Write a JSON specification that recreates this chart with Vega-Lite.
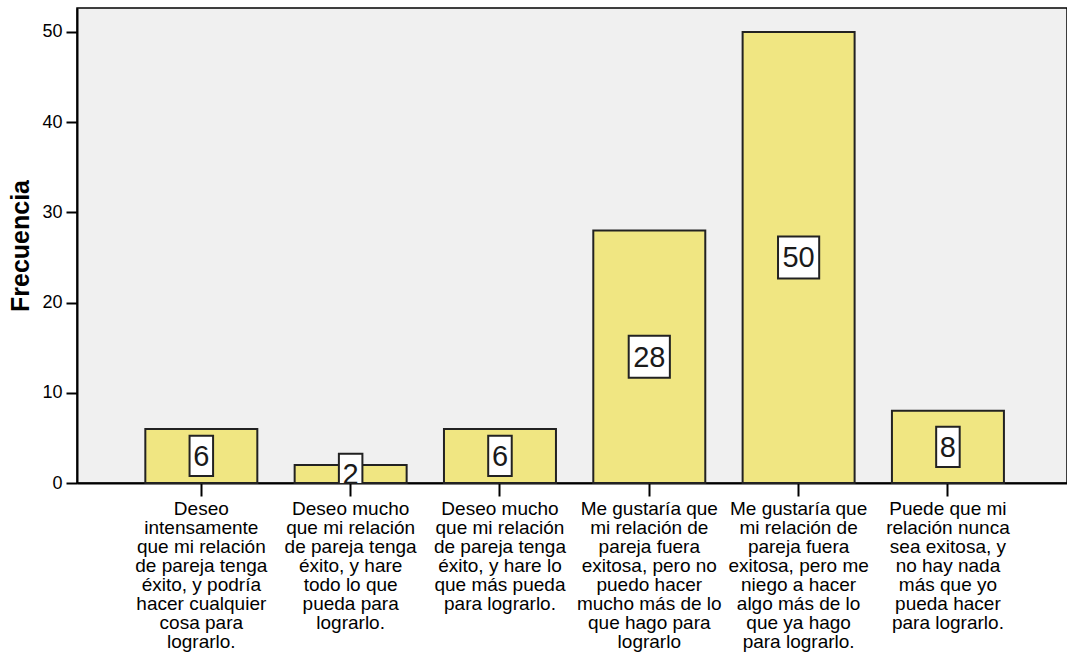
{
  "$schema": "https://vega.github.io/schema/vega-lite/v6.json",
  "width": 990,
  "height": 475,
  "autosize": "none",
  "padding": {"left": 77, "top": 8, "right": 0, "bottom": 170},
  "background": "#ffffff",
  "config": {
    "view": {"fill": "#f0f0f0", "stroke": "#000000", "strokeWidth": 1.5},
    "font": "Liberation Sans"
  },
  "data": {
    "values": [
      {"categoria": "Deseo\nintensamente\nque mi relación\nde pareja tenga\néxito, y podría\nhacer cualquier\ncosa para\nlograrlo.", "Frecuencia": 6},
      {"categoria": "Deseo mucho\nque mi relación\nde pareja tenga\néxito, y hare\ntodo lo que\npueda para\nlograrlo.", "Frecuencia": 2},
      {"categoria": "Deseo mucho\nque mi relación\nde pareja tenga\néxito, y hare lo\nque más pueda\npara lograrlo.", "Frecuencia": 6},
      {"categoria": "Me gustaría que\nmi relación de\npareja fuera\nexitosa, pero no\npuedo  hacer\nmucho más de lo\nque  hago para\nlograrlo", "Frecuencia": 28},
      {"categoria": "Me gustaría que\nmi relación de\npareja fuera\nexitosa, pero me\nniego a hacer\nalgo más de lo\nque ya hago\npara lograrlo.", "Frecuencia": 50},
      {"categoria": "Puede que mi\nrelación nunca\nsea exitosa, y\nno hay nada\nmás que yo\npueda hacer\npara lograrlo.", "Frecuencia": 8}
    ]
  },
  "encoding": {
    "x": {
      "field": "categoria",
      "type": "nominal",
      "sort": null,
      "scale": {"paddingInner": 0.25, "paddingOuter": 0.44, "align": 0.52},
      "axis": {
        "title": null,
        "labelAngle": 0,
        "labelExpr": "split(datum.label, '\\n')",
        "labelFont": "Liberation Sans",
        "labelFontSize": 19,
        "labelLineHeight": 19,
        "labelColor": "#000000",
        "labelBaseline": "top",
        "labelPadding": 3,
        "labelLimit": 300,
        "tickSize": 13,
        "tickWidth": 2,
        "tickColor": "#000000",
        "domainColor": "#000000",
        "domainWidth": 2
      }
    }
  },
  "layer": [
    {
      "mark": {"type": "bar", "fill": "#f0e682", "stroke": "#222222", "strokeWidth": 2},
      "encoding": {
        "y": {
          "field": "Frecuencia",
          "type": "quantitative",
          "scale": {"domain": [0, 52.66], "nice": false, "zero": true},
          "axis": {
            "title": "Frecuencia",
            "titleFont": "Liberation Sans",
            "titleFontSize": 25,
            "titleFontWeight": "bold",
            "titleColor": "#000000",
            "titlePadding": 8,
            "values": [0, 10, 20, 30, 40, 50],
            "grid": false,
            "labelFont": "Liberation Sans",
            "labelFontSize": 18,
            "labelColor": "#000000",
            "labelPadding": 4,
            "tickSize": 11,
            "tickWidth": 2,
            "tickColor": "#000000",
            "domainColor": "#000000",
            "domainWidth": 2
          }
        }
      }
    },
    {
      "transform": [{"calculate": "datum.Frecuencia / 2", "as": "mitad"}],
      "mark": {"type": "point", "clip": true, "filled": false, "fill": "#ffffff", "fillOpacity": 1, "stroke": "#222222", "strokeWidth": 2, "opacity": 1, "size": 1764},
      "encoding": {
        "y": {"field": "mitad", "type": "quantitative"},
        "shape": {
          "condition": {"test": "datum.Frecuencia >= 10", "value": "M-0.98,-1H0.98V1H-0.98Z"},
          "value": "M-0.56,-0.96H0.56V0.96H-0.56Z"
        }
      }
    },
    {
      "transform": [{"calculate": "datum.Frecuencia / 2", "as": "mitad"}],
      "mark": {"type": "text", "clip": true, "font": "Liberation Sans", "fontSize": 29, "color": "#1a1a1a", "baseline": "middle", "align": "center", "dy": 1},
      "encoding": {
        "y": {"field": "mitad", "type": "quantitative"},
        "text": {"field": "Frecuencia", "type": "quantitative"}
      }
    }
  ]
}
